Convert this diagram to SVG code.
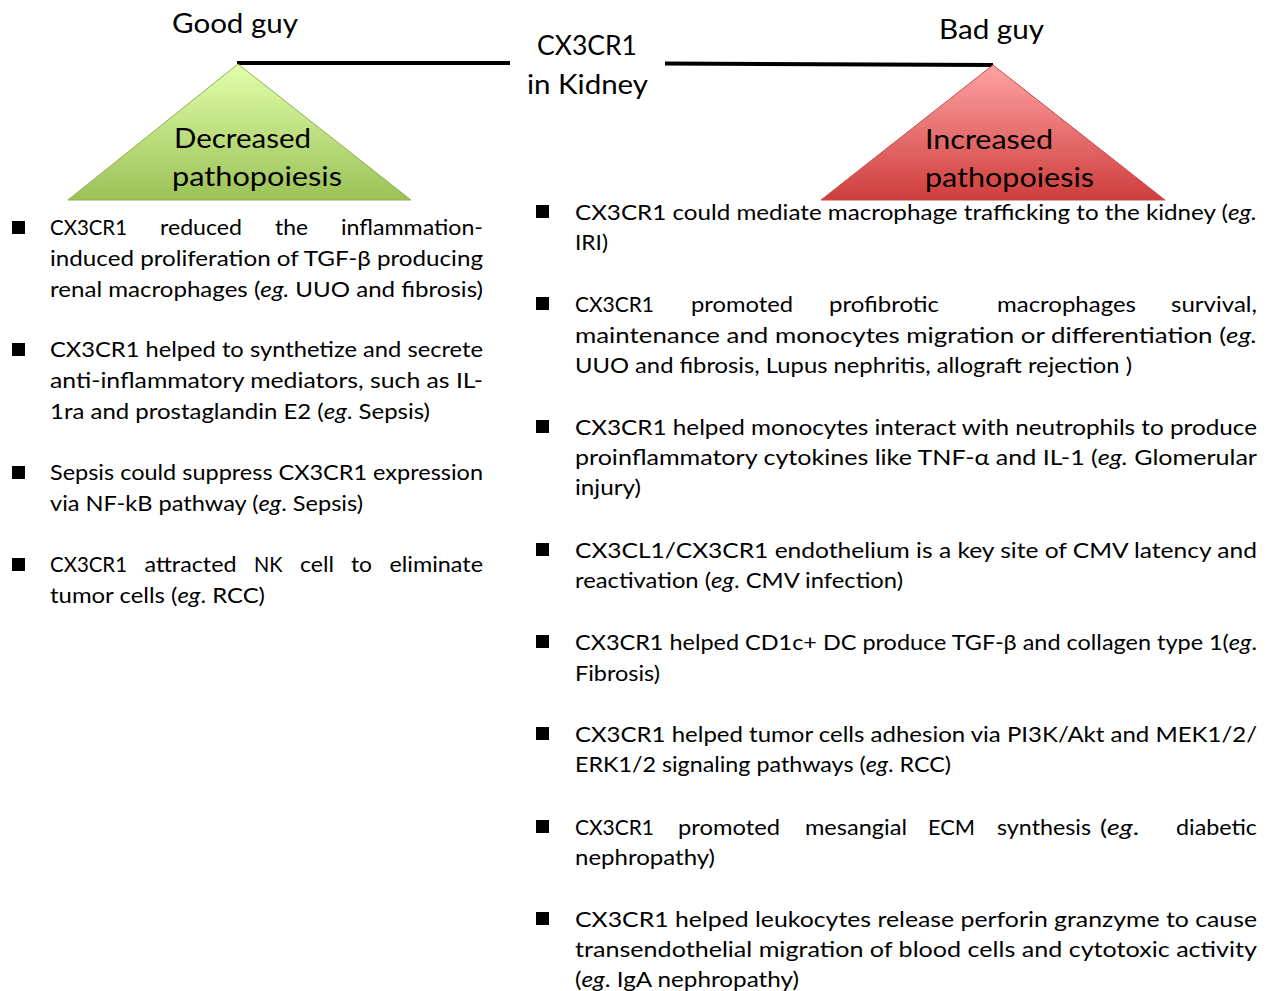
<svg xmlns="http://www.w3.org/2000/svg" width="1270" height="991" viewBox="0 0 1270 991">
<defs>
<linearGradient id="gGreen" x1="0" y1="0" x2="0" y2="1">
<stop offset="0" stop-color="#e2ffab"/>
<stop offset="1" stop-color="#9bc157"/>
</linearGradient>
<linearGradient id="gRed" x1="0" y1="0" x2="0" y2="1">
<stop offset="0" stop-color="#ffa3a3"/>
<stop offset="1" stop-color="#cf3d3d"/>
</linearGradient>
<style>
text{font-family:Lato,"Carlito","Liberation Sans",sans-serif;fill:#000}
.t{font-size:26px}
.b{font-size:22px}
.i{font-style:italic}
.sq{fill:#000}
</style>
</defs>
<rect width="1270" height="991" fill="#fff"/>
<g id="connectors">
<line x1="237" y1="63" x2="510" y2="63" stroke="#000" stroke-width="4"/>
<line x1="665" y1="63.5" x2="993" y2="65" stroke="#000" stroke-width="4"/>
</g>
<g id="center">
<text class="t" x="537" y="55" textLength="100" lengthAdjust="spacingAndGlyphs">CX3CR1</text>
<text class="t" x="527" y="94" textLength="121" lengthAdjust="spacingAndGlyphs">in Kidney</text>
</g>
<g id="good">
<text class="t" x="172" y="33" textLength="126" lengthAdjust="spacingAndGlyphs">Good guy</text>
<polygon points="238,64 68,200 411,200" fill="url(#gGreen)" stroke="#8eb150" stroke-width="1"/>
<text class="t" x="174" y="148" textLength="137" lengthAdjust="spacingAndGlyphs">Decreased</text>
<text class="t" x="172" y="186" textLength="170" lengthAdjust="spacingAndGlyphs">pathopoiesis</text>
</g>
<g id="bad">
<text class="t" x="939" y="39" textLength="105" lengthAdjust="spacingAndGlyphs">Bad guy</text>
<polygon points="993,65 821,200 1165,200" fill="url(#gRed)" stroke="#c0504d" stroke-width="1"/>
<text class="t" x="925" y="149" textLength="128" lengthAdjust="spacingAndGlyphs">Increased</text>
<text class="t" x="925" y="187" textLength="169" lengthAdjust="spacingAndGlyphs">pathopoiesis</text>
</g>
<g id="good-list">
<rect class="sq" x="12" y="221" width="13" height="13"/>
<text class="b" x="50" y="235" textLength="77" lengthAdjust="spacingAndGlyphs">CX3CR1</text>
<text class="b" x="160" y="235" textLength="82" lengthAdjust="spacingAndGlyphs">reduced</text>
<text class="b" x="275" y="235" textLength="33" lengthAdjust="spacingAndGlyphs">the</text>
<text class="b" x="341" y="235" textLength="142" lengthAdjust="spacingAndGlyphs">inflammation-</text>
<text class="b" x="50" y="266" textLength="433" lengthAdjust="spacingAndGlyphs">induced proliferation of TGF-β producing</text>
<text class="b" x="50" y="297" textLength="433" lengthAdjust="spacingAndGlyphs">renal macrophages (<tspan class="i">eg.</tspan> UUO and fibrosis)</text>

<rect class="sq" x="12" y="343" width="13" height="13"/>
<text class="b" x="50" y="357" textLength="433" lengthAdjust="spacingAndGlyphs">CX3CR1 helped to synthetize and secrete</text>
<text class="b" x="50" y="388" textLength="433" lengthAdjust="spacingAndGlyphs">anti-inflammatory mediators, such as IL-</text>
<text class="b" x="50" y="419" textLength="380" lengthAdjust="spacingAndGlyphs">1ra and prostaglandin E2 (<tspan class="i">eg</tspan>. Sepsis)</text>

<rect class="sq" x="12" y="466" width="13" height="13"/>
<text class="b" x="50" y="480" textLength="433" lengthAdjust="spacingAndGlyphs">Sepsis could suppress CX3CR1 expression</text>
<text class="b" x="50" y="511" textLength="313" lengthAdjust="spacingAndGlyphs">via NF-kB pathway (<tspan class="i">eg</tspan>. Sepsis)</text>

<rect class="sq" x="12" y="558" width="13" height="13"/>
<text class="b" x="50" y="572" textLength="77" lengthAdjust="spacingAndGlyphs">CX3CR1</text>
<text class="b" x="144.5" y="572" textLength="92" lengthAdjust="spacingAndGlyphs">attracted</text>
<text class="b" x="254" y="572" textLength="28.5" lengthAdjust="spacingAndGlyphs">NK</text>
<text class="b" x="300" y="572" textLength="34" lengthAdjust="spacingAndGlyphs">cell</text>
<text class="b" x="351" y="572" textLength="21" lengthAdjust="spacingAndGlyphs">to</text>
<text class="b" x="389.5" y="572" textLength="93.5" lengthAdjust="spacingAndGlyphs">eliminate</text>
<text class="b" x="50" y="603" textLength="215" lengthAdjust="spacingAndGlyphs">tumor cells (<tspan class="i">eg</tspan>. RCC)</text>
</g>
<g id="bad-list">
<rect class="sq" x="536" y="205" width="13" height="13"/>
<text class="b" x="575" y="220" textLength="682" lengthAdjust="spacingAndGlyphs">CX3CR1 could mediate macrophage trafficking to the kidney (<tspan class="i">eg.</tspan></text>
<text class="b" x="575" y="250" textLength="33" lengthAdjust="spacingAndGlyphs">IRI)</text>

<rect class="sq" x="536" y="297" width="13" height="13"/>
<text class="b" x="575" y="312" textLength="79" lengthAdjust="spacingAndGlyphs">CX3CR1</text>
<text class="b" x="691" y="312" textLength="102" lengthAdjust="spacingAndGlyphs">promoted</text>
<text class="b" x="829" y="312" textLength="110" lengthAdjust="spacingAndGlyphs">profibrotic</text>
<text class="b" x="997" y="312" textLength="139" lengthAdjust="spacingAndGlyphs">macrophages</text>
<text class="b" x="1171" y="312" textLength="86" lengthAdjust="spacingAndGlyphs">survival,</text>
<text class="b" x="575" y="343" textLength="682" lengthAdjust="spacingAndGlyphs">maintenance and monocytes migration or differentiation (<tspan class="i">eg.</tspan></text>
<text class="b" x="575" y="373" textLength="557" lengthAdjust="spacingAndGlyphs">UUO and fibrosis, Lupus nephritis, allograft rejection )</text>

<rect class="sq" x="536" y="420" width="13" height="13"/>
<text class="b" x="575" y="435" textLength="682" lengthAdjust="spacingAndGlyphs">CX3CR1 helped monocytes interact with neutrophils to produce</text>
<text class="b" x="575" y="465" textLength="682" lengthAdjust="spacingAndGlyphs">proinflammatory cytokines like TNF-α and IL-1 (<tspan class="i">eg.</tspan> Glomerular</text>
<text class="b" x="575" y="495" textLength="66" lengthAdjust="spacingAndGlyphs">injury)</text>

<rect class="sq" x="536" y="543" width="13" height="13"/>
<text class="b" x="575" y="558" textLength="682" lengthAdjust="spacingAndGlyphs">CX3CL1/CX3CR1 endothelium is a key site of CMV latency and</text>
<text class="b" x="575" y="588" textLength="328" lengthAdjust="spacingAndGlyphs">reactivation (<tspan class="i">eg</tspan>. CMV infection)</text>

<rect class="sq" x="536" y="635" width="13" height="13"/>
<text class="b" x="575" y="650" textLength="682" lengthAdjust="spacingAndGlyphs">CX3CR1 helped CD1c+ DC produce TGF-β and collagen type 1(<tspan class="i">eg</tspan>.</text>
<text class="b" x="575" y="681" textLength="85" lengthAdjust="spacingAndGlyphs">Fibrosis)</text>

<rect class="sq" x="536" y="727" width="13" height="13"/>
<text class="b" x="575" y="742" textLength="682" lengthAdjust="spacingAndGlyphs">CX3CR1 helped tumor cells adhesion via PI3K/Akt and MEK1/2/</text>
<text class="b" x="575" y="772" textLength="376" lengthAdjust="spacingAndGlyphs">ERK1/2 signaling pathways (<tspan class="i">eg</tspan>. RCC)</text>

<rect class="sq" x="536" y="820" width="13" height="13"/>
<text class="b" x="575" y="835" textLength="79" lengthAdjust="spacingAndGlyphs">CX3CR1</text>
<text class="b" x="678" y="835" textLength="102" lengthAdjust="spacingAndGlyphs">promoted</text>
<text class="b" x="805" y="835" textLength="102" lengthAdjust="spacingAndGlyphs">mesangial</text>
<text class="b" x="928" y="835" textLength="47" lengthAdjust="spacingAndGlyphs">ECM</text>
<text class="b" x="997" y="835" textLength="94" lengthAdjust="spacingAndGlyphs">synthesis</text>
<text class="b" x="1100" y="835" textLength="39" lengthAdjust="spacingAndGlyphs">(<tspan class="i">eg</tspan>.</text>
<text class="b" x="1176" y="835" textLength="81" lengthAdjust="spacingAndGlyphs">diabetic</text>
<text class="b" x="575" y="865" textLength="140" lengthAdjust="spacingAndGlyphs">nephropathy)</text>

<rect class="sq" x="536" y="912" width="13" height="13"/>
<text class="b" x="575" y="927" textLength="682" lengthAdjust="spacingAndGlyphs">CX3CR1 helped leukocytes release perforin granzyme to cause</text>
<text class="b" x="575" y="957" textLength="682" lengthAdjust="spacingAndGlyphs">transendothelial migration of blood cells and cytotoxic activity</text>
<text class="b" x="575" y="987" textLength="224" lengthAdjust="spacingAndGlyphs">(<tspan class="i">eg</tspan>. IgA nephropathy)</text>
</g>
</svg>
